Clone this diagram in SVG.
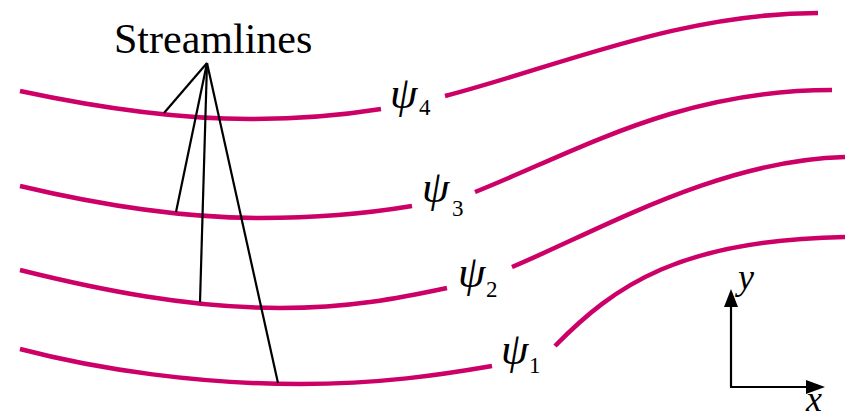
<svg xmlns="http://www.w3.org/2000/svg" width="849" height="419" viewBox="0 0 849 419">
<style>
.sl{fill:none;stroke:#CC0066;stroke-width:4.5;stroke-linecap:butt}
.ld{fill:none;stroke:#000;stroke-width:2.2}
.ax{fill:none;stroke:#000;stroke-width:2.2}
.t{font-family:"Liberation Serif","Times New Roman",serif;fill:#000}
.psi{font-style:italic;font-size:44px}
.sub{font-size:23px}
.axl{font-style:italic;font-size:36px}
</style>
<rect width="849" height="419" fill="#fff"/>
<g id="streamline4">
<path class="sl" d="M20,91 C90,106 170,119 250,119 C310,119 350,114 381,109"/>
<path class="sl" d="M445,96 C560,66 680,13 818,13"/>
<text class="t psi" x="390" y="108">ψ</text><text class="t sub" x="419" y="115">4</text>
</g>
<g id="streamline3">
<path class="sl" d="M20,186 C100,205 180,218 260,218 C320,218 370,213 412,206"/>
<path class="sl" d="M475,192 C580,150 680,90 832,90"/>
<text class="t psi" x="422" y="202">ψ</text><text class="t sub" x="452" y="216">3</text>
</g>
<g id="streamline2">
<path class="sl" d="M20,270 C100,290 190,308 280,308 C350,308 400,298 447,288"/>
<path class="sl" d="M512,267 C600,230 720,160 845,157"/>
<text class="t psi" x="458" y="287">ψ</text><text class="t sub" x="486" y="297">2</text>
</g>
<g id="streamline1">
<path class="sl" d="M20,349 C100,370 200,384 300,384 C380,384 440,375 492,366"/>
<path class="sl" d="M555,346 C615,285 680,240 845,237"/>
<text class="t psi" x="501" y="364">ψ</text><text class="t sub" x="529" y="373">1</text>
</g>
<g id="label">
<text class="t" x="114" y="53" font-size="42">Streamlines</text>
</g>
<g id="connectors">
<line class="ld" x1="207" y1="63" x2="164" y2="113"/>
<line class="ld" x1="207" y1="63" x2="176" y2="212"/>
<line class="ld" x1="207" y1="63" x2="200" y2="302"/>
<line class="ld" x1="207" y1="63" x2="278" y2="383"/>
</g>
<g id="axes">
<path class="ax" d="M731,387 L731,300"/>
<path class="ax" d="M730,387 L815,387"/>
<path d="M724,307 L731,289 L738,307 Z" fill="#000"/>
<path d="M806,380 L825,387 L806,394 Z" fill="#000"/>
<text class="t axl" x="738" y="289">y</text>
<text class="t axl" x="806" y="411">x</text>
</g>
</svg>
